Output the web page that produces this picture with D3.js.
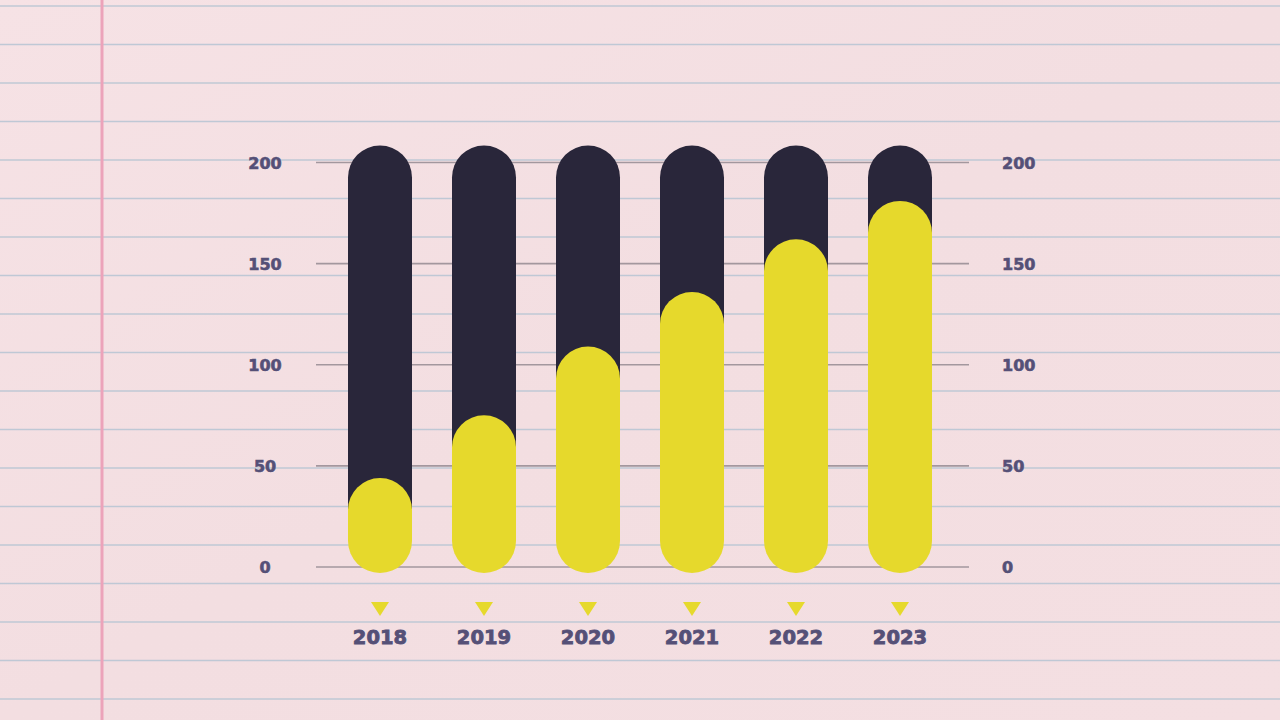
<!DOCTYPE html>
<html>
<head>
<meta charset="utf-8">
<script src="https://cdn.jsdelivr.net/npm/d3@7"></script>
<style>
  html, body { margin: 0; padding: 0; background: #f3dfe2; }
  svg { display: block; }
  text { font-family: "DejaVu Sans", sans-serif; font-weight: bold; }
</style>
</head>
<body>
<svg id="chart" width="1280" height="720"></svg>
<script>
const years = ["2018", "2019", "2020", "2021", "2022", "2023"];
const values = [44, 75, 109, 136, 162, 181];
const trackMax = 200;
const tickValues = [0, 50, 100, 150, 200];

const W = 1280, H = 720;
const svg = d3.select("#chart");
const textColor = "#555077";

// paper background
const defs = svg.append("defs");
const grad = defs.append("linearGradient").attr("id", "paper").attr("x1", 0).attr("y1", 0).attr("x2", 1).attr("y2", 1);
grad.append("stop").attr("offset", "0%").attr("stop-color", "#f6e2e5");
grad.append("stop").attr("offset", "50%").attr("stop-color", "#f3dee1");
grad.append("stop").attr("offset", "100%").attr("stop-color", "#f4dfe2");
svg.append("rect").attr("width", W).attr("height", H).attr("fill", "url(#paper)");

svg.append("g").selectAll("line")
  .data(d3.range(6, H, 38.5))
  .join("line")
  .attr("x1", 0).attr("x2", W)
  .attr("y1", d => d).attr("y2", d => d)
  .attr("stroke", "#bfc8d5").attr("stroke-width", 1.3);

svg.append("line")
  .attr("x1", 102).attr("x2", 102).attr("y1", 0).attr("y2", H)
  .attr("stroke", "#eca3ba").attr("stroke-width", 3);

// scales
const x = d3.scalePoint().domain(years).range([380, 900]);
const y = d3.scaleLinear().domain([0, 200]).range([567, 162.5]);
const barW = 64, r = 32;
const capTop = 17, capBottom = 6;

// gridlines
svg.append("g").selectAll("line")
  .data(tickValues)
  .join("line")
  .attr("x1", 316).attr("x2", 969)
  .attr("y1", d => y(d)).attr("y2", d => y(d))
  .attr("stroke", "#a3979e").attr("stroke-width", 1.6);

// axes (labels only)
function styleAxis(g, anchor) {
  g.select(".domain").remove();
  g.selectAll("text")
    .attr("x", 0).attr("text-anchor", anchor).attr("dy", "0.36em")
    .attr("fill", textColor).attr("stroke", textColor).attr("stroke-width", 0.6)
    .style("font-size", "16px")
    .style("font-family", "'DejaVu Sans', sans-serif").style("font-weight", "bold");
}
const gl = svg.append("g").attr("transform", "translate(265,0)")
  .call(d3.axisLeft(y).tickValues(tickValues).tickSize(0).tickPadding(0));
styleAxis(gl, "middle");
const gr = svg.append("g").attr("transform", "translate(1002,0)")
  .call(d3.axisRight(y).tickValues(tickValues).tickSize(0).tickPadding(0));
styleAxis(gr, "start");

const data = years.map((yr, i) => ({ yr, v: values[i] }));

// track bars (rounded top, flat bottom hidden under the value bar)
svg.append("g").selectAll("path")
  .data(data)
  .join("path")
  .attr("d", d => {
    const x0 = x(d.yr) - barW / 2, x1 = x(d.yr) + barW / 2;
    const top = y(trackMax) - capTop;
    const bot = y(d.v) + r + 2;
    return `M${x0},${bot} L${x0},${top + r} A${r},${r} 0 0 1 ${x1},${top + r} L${x1},${bot} Z`;
  })
  .attr("fill", "#29263a");

// value bars
svg.append("g").selectAll("rect")
  .data(data)
  .join("rect")
  .attr("x", d => x(d.yr) - barW / 2)
  .attr("y", d => y(d.v))
  .attr("width", barW)
  .attr("height", d => (y(0) + capBottom) - y(d.v))
  .attr("rx", r).attr("ry", r)
  .attr("fill", "#e6d92c");

// triangles
svg.append("g").selectAll("path")
  .data(years)
  .join("path")
  .attr("d", d => `M${x(d) - 9},602 L${x(d) + 9},602 L${x(d)},616 Z`)
  .attr("fill", "#e6d92c");

// year labels
svg.append("g").selectAll("text")
  .data(years)
  .join("text")
  .attr("x", d => x(d)).attr("y", 644)
  .attr("text-anchor", "middle")
  .attr("fill", textColor).attr("stroke", textColor).attr("stroke-width", 0.8)
  .style("font-size", "19.5px")
  .text(d => d);
</script>
</body>
</html>
